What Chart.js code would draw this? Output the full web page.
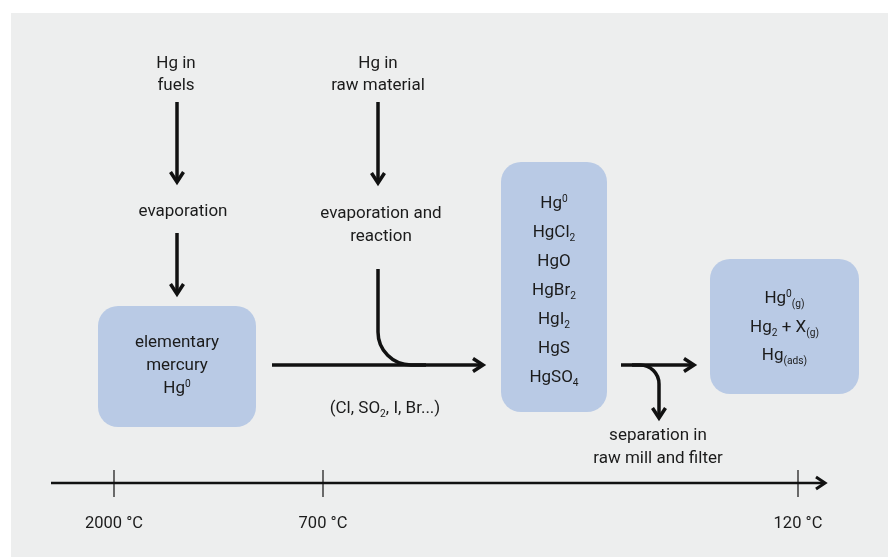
<!DOCTYPE html>
<html><head><meta charset="utf-8">
<script src="https://cdn.jsdelivr.net/npm/chart.js@4.4.1/dist/chart.umd.min.js"></script>
<style>html,body{margin:0;padding:0;background:#fff}#wrap{width:888px;height:557px;position:relative}</style>
</head><body><div id="wrap"><canvas id="c"></canvas></div>
<script>
// ---- content (text / values) ----
const sourceLabels = [['Hg in', 'fuels'], ['Hg in', 'raw material']];
const processLabels = [['evaporation'], ['evaporation and', 'reaction']];
const elementalBox = ['elementary', 'mercury', 'Hg^0'];
const compoundSpecies = ['Hg^0', 'HgCl_2', 'HgO', 'HgBr_2', 'HgI_2', 'HgS', 'HgSO_4'];
const reactantLabel = ['(Cl, SO_2, I, Br...)'];
const gasSpecies = ['Hg^0_{(g)}', 'Hg_2 + X_{(g)}', 'Hg_{(ads)}'];
const separationLabel = ['separation in', 'raw mill and filter'];
const temperatureLabels = ['2000 °C', '700 °C', '120 °C'];

// ---- layout (diagram units on the chart's linear scales) ----
const L = {
  panel: {x: 11, y: 13},
  sources: [{x: 176, y: 68}, {x: 378, y: 68}],
  srcArrows: [{x: 177, y0: 102, y1: 182}, {x: 378, y0: 102, y1: 183}],
  processes: [{x: 183, y: 216}, {x: 381, y: 218}],
  procArrow: {x: 177, y0: 233, y1: 294},
  box1: {x0: 98, y0: 306, x1: 256, y1: 427, first: 347, step: 23},
  box2: {x0: 501, y0: 162, x1: 607, y1: 412, first: 208, step: 29},
  box3: {x0: 710, y0: 259, x1: 859, y1: 394, first: 303, step: 28.5},
  mainArrow: {x0: 272, x1: 483, y: 365},
  joinCurve: {x: 378, y0: 269, r: 33},
  reactant: {x: 385, y: 413},
  outArrow: {x0: 621, x1: 694, y: 365},
  splitCurve: {x: 640, r: 19, yTip: 418},
  separation: {x: 658, y: 440, step: 23},
  axis: {x0: 51, x1: 825, y: 483, tickUp: 13, tickDown: 14, labelY: 528},
  tempStops: [114, 323, 798]
};

const FONT = 'Roboto, "Open Sans", sans-serif';
const TXT = '#1b1b1b';
const LINE = '#111111';
const BOX = '#b9cae5';
const BG = '#edeeee';

function parseRich(s) {
  const out = []; let i = 0, buf = '';
  while (i < s.length) {
    const c = s[i];
    if (c === '^' || c === '_') {
      if (buf) { out.push({t: buf, m: 0}); buf = ''; }
      i++; let t;
      if (s[i] === '{') { const j = s.indexOf('}', i); t = s.slice(i + 1, j); i = j + 1; }
      else { t = s[i]; i++; }
      out.push({t, m: c === '^' ? 1 : -1});
    } else { buf += c; i++; }
  }
  if (buf) out.push({t: buf, m: 0});
  return out;
}

function drawRich(ctx, s, cx, by, size) {
  const segs = parseRich(s);
  const small = size * 0.6;
  let total = 0;
  segs.forEach(sg => {
    ctx.font = (sg.m ? small : size) + 'px ' + FONT;
    sg.w = ctx.measureText(sg.t).width;
    total += sg.w;
  });
  let x = cx - total / 2;
  ctx.textAlign = 'left';
  ctx.textBaseline = 'alphabetic';
  segs.forEach(sg => {
    ctx.font = (sg.m ? small : size) + 'px ' + FONT;
    let y = by;
    if (sg.m === 1) y = by - size * 0.36;
    if (sg.m === -1) y = by + size * 0.24;
    ctx.fillText(sg.t, x, y);
    x += sg.w;
  });
}

function roundBox(ctx, x0, y0, x1, y1, r) {
  ctx.beginPath();
  ctx.moveTo(x0 + r, y0);
  ctx.arcTo(x1, y0, x1, y1, r);
  ctx.arcTo(x1, y1, x0, y1, r);
  ctx.arcTo(x0, y1, x0, y0, r);
  ctx.arcTo(x0, y0, x1, y0, r);
  ctx.closePath();
  ctx.fill();
}

function head(ctx, x, y, ang, len, half) {
  const ca = Math.cos(ang), sa = Math.sin(ang);
  const bx = x - len * ca, by = y - len * sa;
  ctx.beginPath();
  ctx.moveTo(bx - half * sa, by + half * ca);
  ctx.lineTo(x, y);
  ctx.lineTo(bx + half * sa, by - half * ca);
  ctx.stroke();
}

const diagram = {
  id: 'diagram',
  beforeDraw(chart) {
    const ctx = chart.ctx;
    const xs = chart.scales.x, ys = chart.scales.y;
    const X = v => xs.getPixelForValue(v);
    const Y = v => ys.getPixelForValue(v);
    ctx.save();
    // background
    ctx.fillStyle = '#ffffff';
    ctx.fillRect(0, 0, chart.width, chart.height);
    ctx.fillStyle = BG;
    ctx.fillRect(X(L.panel.x), Y(L.panel.y), X(888) - X(L.panel.x), Y(557) - Y(L.panel.y));

    // boxes
    ctx.fillStyle = BOX;
    [L.box1, L.box2, L.box3].forEach(b => roundBox(ctx, X(b.x0), Y(b.y0), X(b.x1), Y(b.y1), 20));

    // lines and arrows
    ctx.strokeStyle = LINE;
    ctx.lineWidth = 3.5;
    ctx.lineCap = 'butt';
    ctx.lineJoin = 'miter';
    L.srcArrows.forEach(a => {
      ctx.beginPath(); ctx.moveTo(X(a.x), Y(a.y0)); ctx.lineTo(X(a.x), Y(a.y1) - 2); ctx.stroke();
      head(ctx, X(a.x), Y(a.y1), Math.PI / 2, 10, 6.5);
    });
    const pa = L.procArrow;
    ctx.beginPath(); ctx.moveTo(X(pa.x), Y(pa.y0)); ctx.lineTo(X(pa.x), Y(pa.y1) - 2); ctx.stroke();
    head(ctx, X(pa.x), Y(pa.y1), Math.PI / 2, 10, 6.5);

    // main horizontal arrow + joining curve
    const m = L.mainArrow, jc = L.joinCurve;
    ctx.beginPath(); ctx.moveTo(X(m.x0), Y(m.y)); ctx.lineTo(X(m.x1) - 2, Y(m.y)); ctx.stroke();
    head(ctx, X(m.x1), Y(m.y), 0, 10, 6.5);
    ctx.beginPath();
    ctx.moveTo(X(jc.x), Y(jc.y0));
    ctx.lineTo(X(jc.x), Y(m.y - jc.r));
    ctx.arc(X(jc.x + jc.r), Y(m.y - jc.r), jc.r, Math.PI, Math.PI / 2, true);
    ctx.lineTo(X(jc.x + jc.r + 15), Y(m.y));
    ctx.stroke();

    // output arrow + split curve
    const o = L.outArrow, sc = L.splitCurve;
    ctx.beginPath(); ctx.moveTo(X(o.x0), Y(o.y)); ctx.lineTo(X(o.x1) - 2, Y(o.y)); ctx.stroke();
    head(ctx, X(o.x1), Y(o.y), 0, 10, 6.5);
    ctx.beginPath();
    ctx.moveTo(X(sc.x - 8), Y(o.y));
    ctx.arc(X(sc.x), Y(o.y + sc.r), sc.r, -Math.PI / 2, 0, false);
    ctx.lineTo(X(sc.x + sc.r), Y(sc.yTip) - 2);
    ctx.stroke();
    head(ctx, X(sc.x + sc.r), Y(sc.yTip), Math.PI / 2, 10, 6.5);

    // temperature axis
    const ax = L.axis;
    ctx.lineWidth = 2.6;
    ctx.beginPath(); ctx.moveTo(X(ax.x0), Y(ax.y)); ctx.lineTo(X(ax.x1) - 2, Y(ax.y)); ctx.stroke();
    ctx.lineWidth = 3;
    head(ctx, X(ax.x1), Y(ax.y), 0, 9, 6);
    ctx.lineWidth = 1.2;
    L.tempStops.forEach(t => {
      ctx.beginPath(); ctx.moveTo(X(t), Y(ax.y - ax.tickUp)); ctx.lineTo(X(t), Y(ax.y + ax.tickDown)); ctx.stroke();
    });

    // texts
    ctx.fillStyle = TXT;
    sourceLabels.forEach((lines, i) => lines.forEach((t, k) => drawRich(ctx, t, X(L.sources[i].x), Y(L.sources[i].y + k * 22), 17)));
    processLabels.forEach((lines, i) => lines.forEach((t, k) => drawRich(ctx, t, X(L.processes[i].x), Y(L.processes[i].y + k * 23), 17)));
    const b1 = L.box1, b2 = L.box2, b3 = L.box3;
    elementalBox.forEach((t, k) => drawRich(ctx, t, X((b1.x0 + b1.x1) / 2), Y(b1.first + k * b1.step), 17));
    compoundSpecies.forEach((t, k) => drawRich(ctx, t, X((b2.x0 + b2.x1) / 2), Y(b2.first + k * b2.step), 17));
    gasSpecies.forEach((t, k) => drawRich(ctx, t, X((b3.x0 + b3.x1) / 2), Y(b3.first + k * b3.step), 17));
    reactantLabel.forEach(t => drawRich(ctx, t, X(L.reactant.x), Y(L.reactant.y), 17));
    separationLabel.forEach((t, k) => drawRich(ctx, t, X(L.separation.x), Y(L.separation.y + k * L.separation.step), 17));
    temperatureLabels.forEach((t, i) => drawRich(ctx, t, X(L.tempStops[i]), Y(ax.labelY), 16.5));
    ctx.restore();
  }
};

new Chart(document.getElementById('c'), {
  type: 'scatter',
  data: {datasets: [{data: [], showLine: false}]},
  options: {
    responsive: true,
    maintainAspectRatio: false,
    animation: false,
    events: [],
    layout: {padding: 0},
    plugins: {legend: {display: false}, tooltip: {enabled: false}, title: {display: false}},
    scales: {
      x: {type: 'linear', min: 0, max: 888, display: false},
      y: {type: 'linear', min: 0, max: 557, reverse: true, display: false}
    }
  },
  plugins: [diagram]
});
</script>
</body></html>
